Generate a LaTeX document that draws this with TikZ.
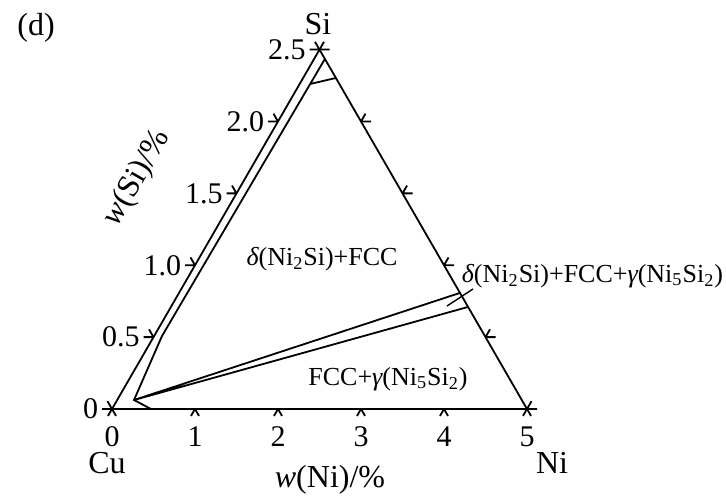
\documentclass[tikz,border=0pt]{standalone}
\usepackage{fontspec}
\setmainfont{Liberation Serif}
\usepackage{tikz}
\usetikzlibrary{calc}

\begin{document}
\begin{tikzpicture}[x=0.5pt, y=-0.5pt, line width=0.9pt,
  lab/.style={font=\fontsize{16}{18}\selectfont},
  num/.style={font=\fontsize{15}{17}\selectfont, inner sep=1pt},
  region/.style={font=\fontsize{13}{15}\selectfont, inner sep=1pt}]
\useasboundingbox (0,0) rectangle (726,501);
% triangle Cu-Ni-Si
\coordinate (Cu) at (112,409);
\coordinate (Ni) at (527,409);
\coordinate (Si) at (319.5,49.6);
\draw (Cu) -- (Ni) -- (Si) -- cycle;
% ticks and numbers, w(Ni)
\foreach \k in {0,...,5} {
  \coordinate (b\k) at ($(Cu)!\k/5!(Ni)$);
  \draw (b\k) -- ++(-4,6.9) (b\k) -- ++(4,6.9);
  \node[num] (nb\k) at ($(b\k)+(0,28)$) {\k};
}
% ticks and numbers, w(Si)
\foreach \k/\v in {0/0,1/0.5,2/1.0,3/1.5,4/2.0,5/2.5} {
  \coordinate (l\k) at ($(Cu)!\k/5!(Si)$);
  \draw (l\k) -- ++(-10,0) (l\k) -- ++(-4.5,-7.8);
  \node[num, anchor=east] (nl\k) at ($(l\k)+(-11,0)$) {\v};
  \coordinate (r\k) at ($(Ni)!\k/5!(Si)$);
  \draw (r\k) -- ++(10,0) (r\k) -- ++(4.5,-7.8);
}
% phase boundaries
\coordinate (pb) at (151,409);
\coordinate (p0) at (134,400);
\coordinate (p1) at (162,336);
\coordinate (p2) at ($(Ni)!0.974!(Si)$);
\draw (pb) -- (p0) -- (p1) -- (p2);
\coordinate (c1) at (310,84);
\coordinate (c2) at ($(Ni)!0.921!(Si)$);
\draw (c1) -- (c2);
% three-phase region
\coordinate (t1) at ($(Ni)!0.323!(Si)$);
\coordinate (t2) at ($(Ni)!0.284!(Si)$);
\draw (p0) -- (t1) (p0) -- (t2);
\coordinate (m1) at (447,306);
\coordinate (m2) at (473,289);
\draw[line width=0.7pt] (m1) -- (m2);
% region labels
\node[region] (fd) at (322,259) {{\itshape δ}(Ni\textsubscript{2}Si)+FCC};
\node[region, anchor=west] (fdg) at (459,276) {{\itshape δ}(Ni\textsubscript{2}Si)+FCC+{\itshape γ}(Ni\textsubscript{5}Si\textsubscript{2})};
\node[region] (fg) at (388,379) {FCC+{\itshape γ}(Ni\textsubscript{5}Si\textsubscript{2})};
% axis titles and corners
\node[lab] (xt) at (330,480) {{\itshape w}(Ni)/\%};
\node[lab, rotate=60] (yt) at (137,178) {{\itshape w}(Si)/\%};
\node[lab] (cu) at (107,463) {Cu};
\node[lab] (ni) at (552,463) {Ni};
\node[lab] (si) at (318,24) {Si};
\node[lab] (d) at (36,28) {(d)};
\end{tikzpicture}
\end{document}
